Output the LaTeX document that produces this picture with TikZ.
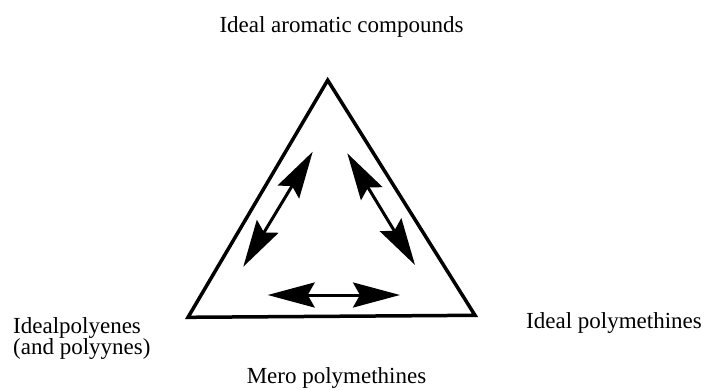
\documentclass[tikz,border=0pt]{standalone}
\usepackage{fontspec}
\setmainfont{Liberation Serif}
\usetikzlibrary{arrows.meta}

\begin{document}
\begin{tikzpicture}[x=1pt,y=-1pt,>={Stealth[length=47pt,width=25pt,inset=7pt]},
  every node/.style={inner sep=0pt,font=\fontsize{23}{21}\selectfont},
  edge/.style={line width=3.5pt,line join=miter},
  link/.style={<->,line width=3pt}]
\useasboundingbox (0,0) rectangle (706,389);
% triangle corners
\coordinate (top) at (327.7,80.2);
\coordinate (left) at (188,317.3);
\coordinate (right) at (475,315.3);
\draw[edge] (top) -- (left) -- (right) -- cycle;
% corner and side labels
\node[anchor=base] (arom) at (341.5,32) {Ideal aromatic compounds};
\node[anchor=north west,align=left] (poly) at (13,317.5) {Idealpolyenes\\(and polyynes)};
\node[anchor=base west] (meth) at (526,328) {Ideal polymethines};
\node[anchor=base] (mero) at (336.5,383) {Mero polymethines};
% arrow ends
\coordinate (l1) at (312.7,151.7); \coordinate (l2) at (243.3,266.7);
\coordinate (r1) at (347.3,153.3); \coordinate (r2) at (415,265);
\coordinate (b1) at (267.7,295); \coordinate (b2) at (400,295);
\draw[link] (l1) -- (l2); \draw[link] (r1) -- (r2); \draw[link] (b1) -- (b2);
\end{tikzpicture}
\end{document}
